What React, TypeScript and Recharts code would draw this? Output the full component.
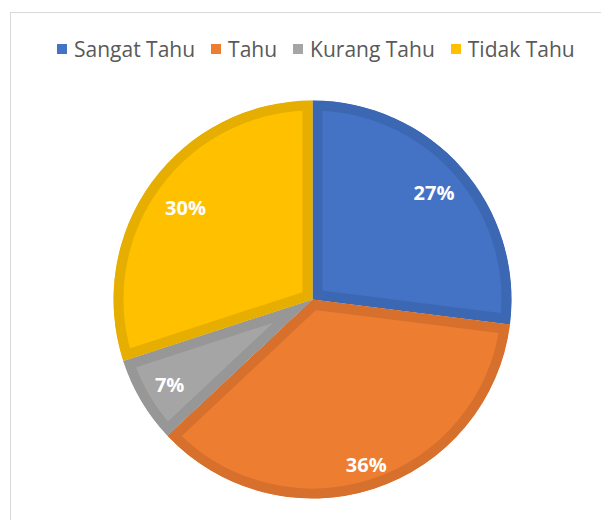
import React from 'react';
import { PieChart, Pie, Cell, Sector } from 'recharts';

const categories = ['Sangat Tahu', 'Tahu', 'Kurang Tahu', 'Tidak Tahu'];
const percentages = [27, 36, 7, 30];

const fills = ['#4472C4', '#ED7D31', '#A5A5A5', '#FFC000'];
const borders = ['#3C67B3', '#D6702C', '#979797', '#E6AE00'];
// distance of each data label from the centre (Excel best-fit placement)
const labelRadii = [162, 174, 166, 157];

const data = categories.map((name, i) => ({ name, value: percentages[i] }));

const RAD = Math.PI / 180;
const FONT = '"Open Sans", "Noto Sans", sans-serif';

// sector with an inner border: stroke is doubled and clipped to the slice itself
function BorderedSector(props: any) {
  const id = `clip-${Math.round(props.startAngle * 100)}-${Math.round(props.endAngle * 100)}`;
  const { stroke, strokeWidth, ...rest } = props;
  return (
    <g>
      <defs>
        <clipPath id={id}>
          <Sector {...rest} />
        </clipPath>
      </defs>
      <Sector {...rest} stroke={stroke} strokeWidth={20} clipPath={`url(#${id})`} />
    </g>
  );
}

function renderLabel(props: any) {
  const { cx, cy, midAngle, value, index } = props;
  const r = labelRadii[index] ?? 163;
  const x = cx + r * Math.cos(-midAngle * RAD);
  const y = cy + r * Math.sin(-midAngle * RAD);
  return (
    <text x={x} y={y} fill="#ffffff" textAnchor="middle" dominantBaseline="central"
      fontFamily={FONT} fontWeight={700} fontSize={20}>
      {`${value}%`}
    </text>
  );
}

export default function App() {
  return (
    <div style={{ position: 'absolute', left: 0, top: 0, width: 601, height: 520, overflow: 'hidden', background: '#fff' }}>
      <div style={{ position: 'absolute', left: 10, top: 12, width: 640, height: 560, border: '1px solid #d9d9d9' }}>
        <div style={{ position: 'absolute', top: 22, left: 46, display: 'flex', alignItems: 'center', fontFamily: FONT, fontSize: 21, color: '#595959', whiteSpace: 'nowrap' }}>
          {categories.map((c, i) => (
            <div key={c} style={{ display: 'flex', alignItems: 'center', marginRight: 16 }}>
              <span style={{ display: 'inline-block', width: 10, height: 10, background: fills[i], marginRight: 7 }} />
              <span>{c}</span>
            </div>
          ))}
        </div>
        <PieChart width={620} height={540} style={{ position: 'absolute', left: 0, top: 0 }}>
          <Pie
            data={data}
            dataKey="value"
            nameKey="name"
            cx={296.5}
            cy={281.5}
            outerRadius={199}
            startAngle={90}
            endAngle={-270}
            label={renderLabel}
            labelLine={false}
            shape={BorderedSector}
            isAnimationActive={false}
          >
            {data.map((d, i) => (
              <Cell key={d.name} fill={fills[i]} stroke={borders[i]} />
            ))}
          </Pie>
        </PieChart>
      </div>
    </div>
  );
}
